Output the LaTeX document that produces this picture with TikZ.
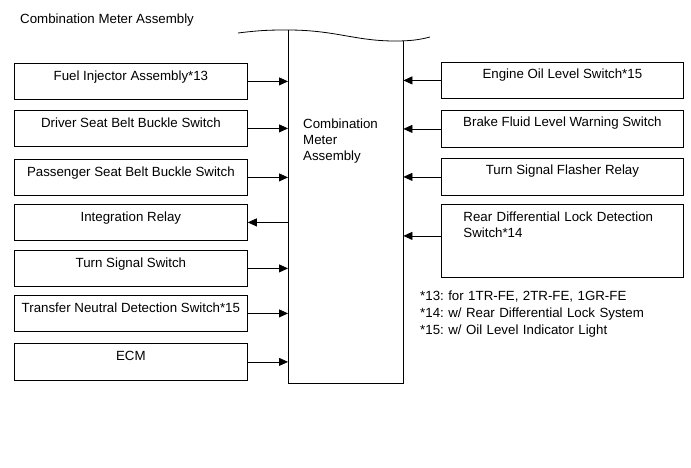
\documentclass[tikz,border=0pt]{standalone}
\usepackage{fontspec}
\setmainfont{Liberation Sans}
\usetikzlibrary{arrows.meta}
\frenchspacing

\tikzset{
	box/.style={draw, anchor=north west, line width=0.8pt, inner sep=3pt, text height=14pt, text depth=16pt},
	lbox/.style={box, minimum width=233pt},
	rbox/.style={box, minimum width=242pt},
	sig/.style={-{Triangle[length=9pt,width=8pt]}, line width=0.8pt},
}

\begin{document}
\begin{tikzpicture}[x=1pt, y=-1pt, font=\fontsize{13.3pt}{16pt}\selectfont]
	\useasboundingbox (0,0) rectangle (691,467);

	\node [anchor=base west, inner sep=0pt] (title) at (20,23) {Combination Meter Assembly};

	% meter body
	\node [anchor=north west, inner sep=0pt, minimum width=115pt, minimum height=353pt] (cma) at (288,30) {};
	\node [anchor=base west, inner sep=0pt, text width=90pt, align=left] (cmatext) at (303,128) {Combination\\Meter\\Assembly};
	\draw [line width=0.8pt] (cma.north west) -- (cma.south west) -- (cma.south east) -- ([yshift=-11pt]cma.north east);
	\draw [line width=0.8pt] (238,33) .. controls (262,30) and (272,30) .. (cma.north west)
		.. controls (335,30) and (355,41) .. (395,41) .. controls (414,41) and (422,39) .. (430,37);

	% inputs and outputs, left side
	\node [lbox] (fuel) at (14,63) {Fuel Injector Assembly*13};
	\node [lbox] (dsb) at (14,110) {Driver Seat Belt Buckle Switch};
	\node [lbox] (psb) at (14,159) {Passenger Seat Belt Buckle Switch};
	\node [lbox] (relay) at (14,204) {Integration Relay};
	\node [lbox] (tsw) at (14,250) {Turn Signal Switch};
	\node [lbox] (tnd) at (14,295) {Transfer Neutral Detection Switch*15};
	\node [lbox, text depth=17pt] (ecm) at (14,343) {ECM};

	% right side
	\node [rbox, text height=13pt, text depth=17pt] (oil) at (441,62) {Engine Oil Level Switch*15};
	\node [rbox, text height=13pt, text depth=18pt] (brake) at (441,110) {Brake Fluid Level Warning Switch};
	\node [rbox, text height=13pt, text depth=18pt] (flasher) at (441,158) {Turn Signal Flasher Relay};
	\node [rbox, text width=198pt, inner xsep=22pt, align=left, text depth=53pt] (rdl) at (441,204) {Rear Differential Lock Detection\\{}Switch*14};

	\node [anchor=base west, inner sep=0pt, text width=260pt, align=left, font=\fontsize{13.3pt}{17pt}\selectfont] (notes) at (420,300.5)
		{*13: for 1TR-FE, 2TR-FE, 1GR-FE\\{}*14: w/ Rear Differential Lock System\\{}*15: w/ Oil Level Indicator Light};

	\draw [sig] (fuel.east) -- (fuel.east -| cma.west);
	\draw [sig] (dsb.east) -- (dsb.east -| cma.west);
	\draw [sig] (psb.east) -- (psb.east -| cma.west);
	\draw [sig] (relay.east -| cma.west) -- (relay.east);
	\draw [sig] (tsw.east) -- (tsw.east -| cma.west);
	\draw [sig] (tnd.east) -- (tnd.east -| cma.west);
	\draw [sig] (ecm.east) -- (ecm.east -| cma.west);

	\draw [sig] (oil.west) -- (oil.west -| cma.east);
	\draw [sig] (brake.west) -- (brake.west -| cma.east);
	\draw [sig] (flasher.west) -- (flasher.west -| cma.east);
	\draw [sig] ([yshift=5pt]rdl.west) -- ([yshift=5pt]rdl.west -| cma.east);
\end{tikzpicture}
\end{document}
